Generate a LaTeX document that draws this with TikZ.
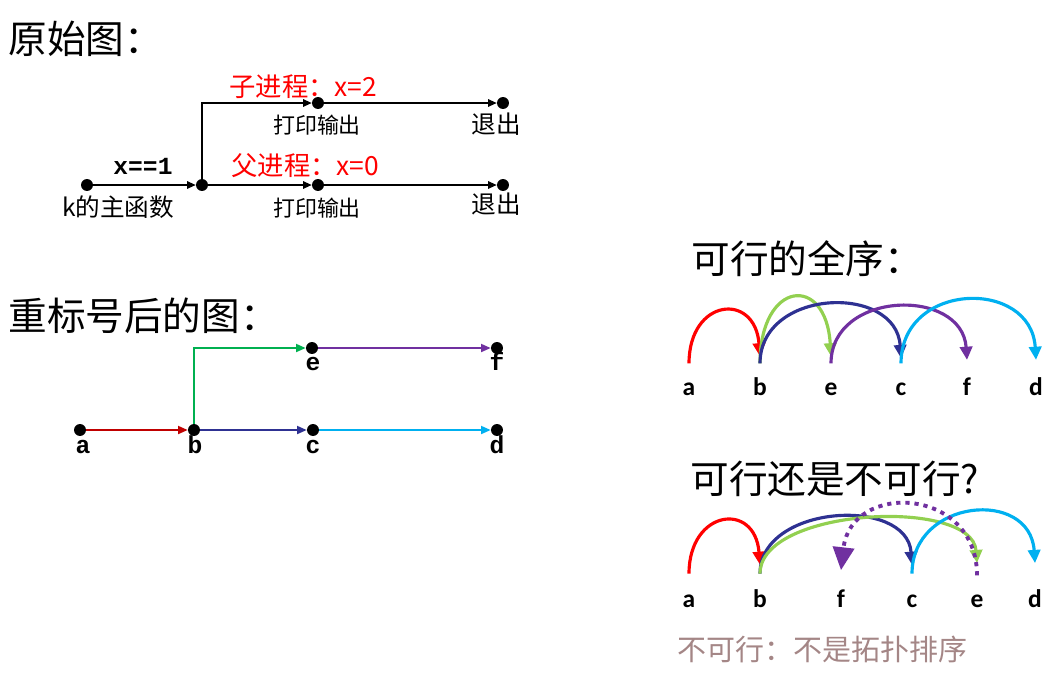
\documentclass[tikz,border=0pt]{standalone}
\usepackage{fontspec}
\setmainfont{Noto Sans CJK SC}
\setmonofont{Liberation Mono}
\newfontfamily\lblfont{Carlito}
\usetikzlibrary{arrows.meta,positioning}
\definecolor{cRed}{HTML}{C00000}
\definecolor{cNavy}{HTML}{2E3192}
\definecolor{cSky}{HTML}{00B0F0}
\definecolor{cGreen}{HTML}{00B050}
\definecolor{cLime}{HTML}{92D050}
\definecolor{cPurple}{HTML}{7030A0}
\definecolor{cGray}{RGB}{164,134,134}

\begin{document}
\begin{tikzpicture}[x=0.02cm,y=-0.02cm,
  dot/.style={circle,fill=black,inner sep=0pt,minimum size=6.8pt},
  flow/.style={-{Triangle[length=4.8pt,width=4.2pt]},line width=0.75pt},
  link/.style={-{Triangle[length=5.5pt,width=4.6pt]},line width=0.9pt},
  hop/.style={-{Triangle[length=7.5pt,width=7pt]},line width=1.8pt},
  title/.style={anchor=base west,inner sep=0pt,font=\fontsize{22pt}{26pt}\selectfont},
  txt/.style={anchor=base,inner sep=0pt,font=\fontsize{14pt}{17pt}\selectfont},
  smalltxt/.style={anchor=base,inner sep=0pt,font=\fontsize{12.5pt}{15pt}\selectfont},
  code/.style={anchor=base,inner sep=0pt,font=\fontsize{14pt}{16pt}\selectfont\ttfamily\bfseries},
  letter/.style={anchor=base,inner sep=0pt,font=\fontsize{14.5pt}{17pt}\selectfont\lblfont\bfseries}]
  \useasboundingbox (0,0) rectangle (1064,674);

  % Original graph
  \node[title] (t1) at (8,53) {原始图：};
  \node[dot] (k) at (87,185) {};
  \node[dot] (fork) at (202,185) {};
  \node[dot] (p1) at (318,185) {};
  \node[dot] (q1) at (503,185) {};
  \node[dot] (p2) at (318,103) {};
  \node[dot] (q2) at (503,103) {};
  \draw[flow] (k) -- (fork);
  \draw[flow] (fork) -- (p1);
  \draw[flow] (p1) -- (q1);
  \draw[flow] (fork) |- (p2);
  \draw[flow] (p2) -- (q2);
  % Labels original graph
  \node[code] (cond) at (143,174) {x==1};
  \node[txt,anchor=base west,red,font=\fontsize{15pt}{18pt}\selectfont] (child) at (229,96) {子进程：x=2};
  \node[txt,anchor=base west,red,font=\fontsize{15pt}{18pt}\selectfont] (parent) at (231,175) {父进程：x=0};
  \node[txt] (lk) at (118,216) {k的主函数};
  \node[smalltxt] (lp2) at (317,133) {打印输出};
  \node[smalltxt] (lp1) at (317,216) {打印输出};
  \node[txt] (lq2) at (496,133) {退出};
  \node[txt] (lq1) at (496,213) {退出};

  % Relabelled graph
  \node[title] (t2) at (8,330) {重标号后的图：};
  \node[dot] (a) at (80,430) {};
  \node[dot] (b) at (194,430) {};
  \node[dot] (c) at (313,430) {};
  \node[dot] (d) at (497,430) {};
  \node[dot] (e) at (312,348) {};
  \node[dot] (f) at (497,348) {};
  \draw[link,cRed] (a) -- (b);
  \draw[link,cNavy] (b) -- (c);
  \draw[link,cSky] (c) -- (d);
  \draw[link,cGreen] (b) |- (e);
  \draw[link,cPurple] (e) -- (f);
  \node[code] (la) at (83,453) {a};
  \node[code] (lb) at (195,453) {b};
  \node[code] (lc) at (313,453) {c};
  \node[code] (ld) at (497,453) {d};
  \node[code] (le) at (313,370) {e};
  \node[code] (lf) at (497,370) {f};

  % Feasible total order
  \node[title] (t3) at (691,273) {可行的全序：};
  \node[letter] (ta) at (689,395) {a};
  \node[letter] (tb) at (760,395) {b};
  \node[letter] (te) at (831,395) {e};
  \node[letter] (tc) at (901,395) {c};
  \node[letter] (tf) at (967,395) {f};
  \node[letter] (td) at (1036,395) {d};
  \draw[hop,red] ([yshift=18pt]ta.base) .. controls +(0,-65) and +(-5,-65) .. ([yshift=22pt]tb.base);
  \draw[hop,cLime] ([yshift=18pt]tb.base) .. controls +(0,-83) and +(-5,-83) .. ([yshift=22pt]te.base);
  \draw[hop,cNavy] ([yshift=18pt]tb.base) .. controls +(0,-75) and +(-5,-75) .. ([yshift=21pt]tc.base);
  \draw[hop,cPurple] ([yshift=18pt]te.base) .. controls +(0,-73) and +(-5,-73) .. ([yshift=20pt]tf.base);
  \draw[hop,cSky] ([yshift=18pt]tc.base) .. controls +(0,-82) and +(-5,-82) .. ([yshift=20pt]td.base);

  % Feasible or not
  \node[title] (t4) at (690,493) {可行还是不可行?};
  \node[letter] (ua) at (689,607) {a};
  \node[letter] (ub) at (760,607) {b};
  \node[letter] (uf) at (841,607) {f};
  \node[letter] (uc) at (912,607) {c};
  \node[letter] (ue) at (977,607) {e};
  \node[letter] (ud) at (1035,607) {d};
  \draw[hop,red] ([yshift=19pt]ua.base) .. controls +(0,-64) and +(-5,-64) .. ([yshift=24pt]ub.base);
  \draw[hop,cNavy] ([yshift=19pt]ub.base) .. controls +(0,-69) and +(-5,-69) .. ([yshift=24pt]uc.base);
  \draw[hop,cLime] ([yshift=19pt]ub.base) .. controls +(0,-66) and +(-5,-66) .. ([yshift=25pt]ue.base);
  \draw[hop,cSky] ([yshift=19pt]uc.base) .. controls +(0,-75) and +(-5,-75) .. ([yshift=25pt]ud.base);
  \draw[hop,cPurple,line width=2.2pt,dash pattern=on 2.4pt off 2.8pt,-{Triangle[length=13pt,width=12pt]}]
    ([yshift=18pt]ue.base) .. controls +(0,-89) and +(10,-89) .. ([yshift=21pt]uf.base);
  \node[anchor=base west,inner sep=0pt,cGray,font=\fontsize{16.5pt}{20pt}\selectfont] (verdict) at (677,660) {不可行：不是拓扑排序};
\end{tikzpicture}
\end{document}
